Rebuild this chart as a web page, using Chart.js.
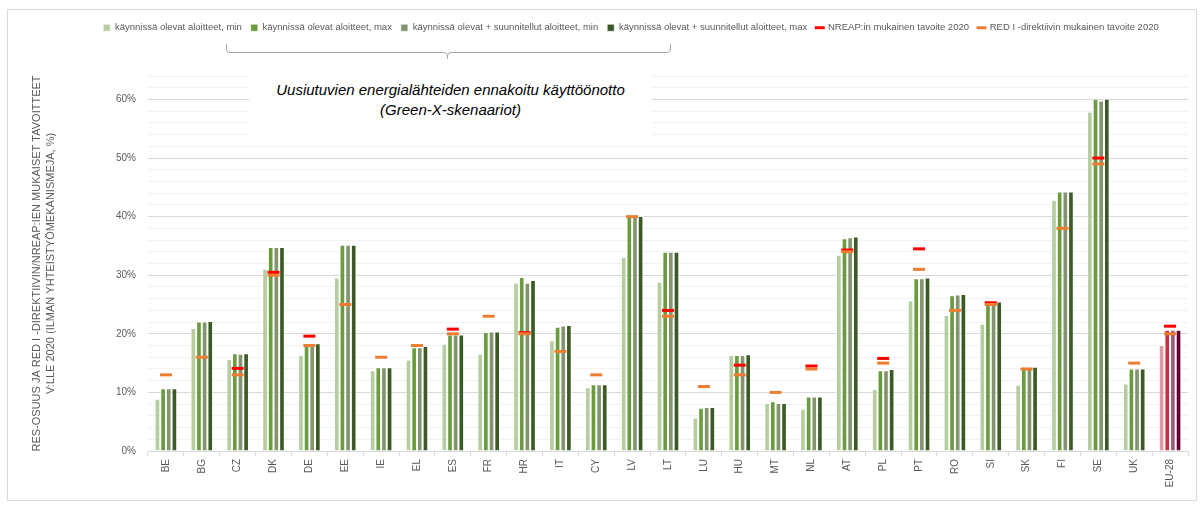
<!DOCTYPE html>
<html><head><meta charset="utf-8">
<script src="https://cdn.jsdelivr.net/npm/chart.js@4.4.1/dist/chart.umd.min.js"></script>
<style>
html,body{margin:0;padding:0;background:#fff;}
#wrap{position:relative;width:1203px;height:506px;overflow:hidden;}
#c{position:absolute;left:0;top:0;}
#frame{position:absolute;left:7px;top:9px;width:1190px;height:492px;border:1px solid #D9D9D9;box-sizing:border-box;pointer-events:none;}
#note{position:absolute;left:249px;top:71px;width:403px;height:64px;background:#fff;font-style:italic;font-size:15px;font-family:"Liberation Sans",sans-serif;color:#000;text-align:center;line-height:20px;padding-top:9px;box-sizing:border-box;}
#br{position:absolute;left:0;top:0;pointer-events:none;}
</style></head>
<body><div id="wrap"><canvas id="c" width="1203" height="506" style="width:1203px;height:506px"></canvas>
<div id="frame"></div>
<div id="note">Uusiutuvien energialähteiden ennakoitu käyttöönotto<br>(Green-X-skenaariot)</div>
<svg id="br" width="1203" height="100"><path d="M226.5,44 V49 Q226.5,52.5 230,52.5 H444 Q447.5,52.5 447.5,56 V59 M447.5,56 Q447.5,52.5 451,52.5 H667 Q670.5,52.5 670.5,49 V44" fill="none" stroke="#A6A6A6" stroke-width="1"/></svg>
</div>
<script>
const countries = ['BE','BG','CZ','DK','DE','EE','IE','EL','ES','FR','HR','IT','CY','LV','LT','LU','HU','MT','NL','AT','PL','PT','RO','SI','SK','FI','SE','UK','EU-28'];
const currentMin = [8.9,21.0,15.7,31.1,16.4,29.6,13.8,15.6,18.3,16.6,28.7,18.9,10.9,33.1,28.9,5.7,16.4,8.2,7.2,33.5,10.6,25.7,23.2,21.7,11.3,42.9,57.9,11.5,18.1];
const currentMax = [10.7,22.1,16.7,34.8,18.0,35.2,14.3,17.7,19.9,20.3,29.7,21.2,11.4,40.1,34.0,7.4,16.4,8.5,9.3,36.3,13.8,29.5,26.6,25.0,14.0,44.3,60.1,14.1,20.7];
const plannedMin = [10.7,22.1,16.6,34.8,18.4,35.2,14.3,17.7,19.9,20.4,28.7,21.4,11.4,40.1,34.0,7.5,16.4,8.2,9.3,36.5,13.8,29.5,26.7,25.0,14.0,44.3,59.8,14.1,20.7];
const plannedMax = [10.7,22.2,16.7,34.8,18.4,35.2,14.3,17.9,19.9,20.4,29.2,21.5,11.4,40.1,34.0,7.5,16.5,8.2,9.3,36.6,14.0,29.6,26.8,25.5,14.4,44.3,60.1,14.1,20.7];
const nreapTarget = [null,null,14.1,30.5,19.6,null,null,null,20.8,null,20.2,null,null,null,24.0,null,14.65,null,14.5,34.3,15.8,34.5,null,25.3,null,null,50.0,null,21.3];
const redTarget = [13,16,13,30,18,25,16,18,20,23,20,17,13,40,23,11,13,10,14,34,15,31,24,25,14,38,49,15,20];
const yTicks = [0,10,20,30,40,50,60];
const seriesNames = ['käynnissä olevat aloitteet, min','käynnissä olevat aloitteet, max','käynnissä olevat + suunnitellut aloitteet, min','käynnissä olevat + suunnitellut aloitteet, max','NREAP:in mukainen tavoite 2020','RED I -direktiivin mukainen tavoite 2020'];
const yTitle = ['RES-OSUUS JA RED I -DIREKTIIVIN/NREAP:IEN MUKAISET TAVOITTEET','V:LLE 2020 (ILMAN YHTEISTYÖMEKANISMEJA, %)'];

const greens = ['#B6CDA0','#6A9B3F','#82956F','#3B5A25'];
const eu = ['#E29AA5','#C8303F','#9E5A78','#640030'];
const colorsFor = i => countries.map(c => c === 'EU-28' ? eu[i] : greens[i]);

const FONT = '"Liberation Sans Narrow","Liberation Sans",sans-serif';

const barDs = [currentMin,currentMax,plannedMin,plannedMax].map((d,i)=>({
  type:'bar', label:seriesNames[i], data:d, backgroundColor:colorsFor(i),
  borderColor:'rgba(255,255,255,0.55)', borderWidth:1, borderSkipped:'bottom',
  categoryPercentage:0.63, barPercentage:1.0, order:2, pointStyle:'rect'
}));
const lineDs = [[nreapTarget,'#FF0000'],[redTarget,'#ED7D31']].map((p,i)=>({
  type:'line', label:seriesNames[4+i], data:p[0], showLine:false,
  borderColor:p[1], backgroundColor:p[1], pointStyle:'line',
  pointRadius:6, pointHoverRadius:6, pointBorderWidth:3, pointHoverBorderWidth:3, order:1-i
}));

const tweak = {
  id:'tweak',
  start(chart){
    const lg = chart.legend;
    if(lg){ const f = lg.fit.bind(lg); lg.fit = function(){ f(); this.height = 62; }; }
  },
  afterLayout(chart){
    const lg = chart.legend; if(lg){ lg.left += 22; lg.right += 22; }
  }
};

new Chart(document.getElementById('c'), {
  data:{ labels:countries, datasets:[...barDs, ...lineDs] },
  plugins:[tweak],
  options:{
    responsive:false, animation:false,
    layout:{ padding:{ left:30, right:15, top:14, bottom:0 } },
    plugins:{
      tooltip:{enabled:false},
      legend:{ position:'top',
        labels:{ usePointStyle:true, boxWidth:7, boxHeight:7, padding:9,
          sort:(a,b)=>a.datasetIndex-b.datasetIndex,
          color:'#595959', font:{ size:9.5, family:FONT } } }
    },
    scales:{
      x:{ grid:{ display:true, drawOnChartArea:false, tickLength:5, color:'#D9D9D9', offset:true },
        border:{ color:'#D9D9D9' },
        ticks:{ minRotation:90, maxRotation:90, padding:3, color:'#595959', font:{ size:10, family:FONT } },
        afterFit(s){ s.height = 55; } },
      y:{ min:0, max:64,
        ticks:{ stepSize:2, autoSkip:false, padding:12, color:'#595959', font:{ size:10, family:FONT },
          callback:v => yTicks.includes(v) ? v + '%' : '' },
        grid:{ drawTicks:false, color:c => (c.tick && yTicks.includes(c.tick.value)) ? '#D9D9D9' : '#F2F2F2' },
        border:{ display:false },
        title:{ display:true, text:yTitle, color:'#595959', font:{ size:11, family:FONT, lineHeight:1.3 }, padding:{top:0,bottom:0} },
        afterFit(s){ s.width = 118; } }
    }
  }
});
</script>
</body></html>
